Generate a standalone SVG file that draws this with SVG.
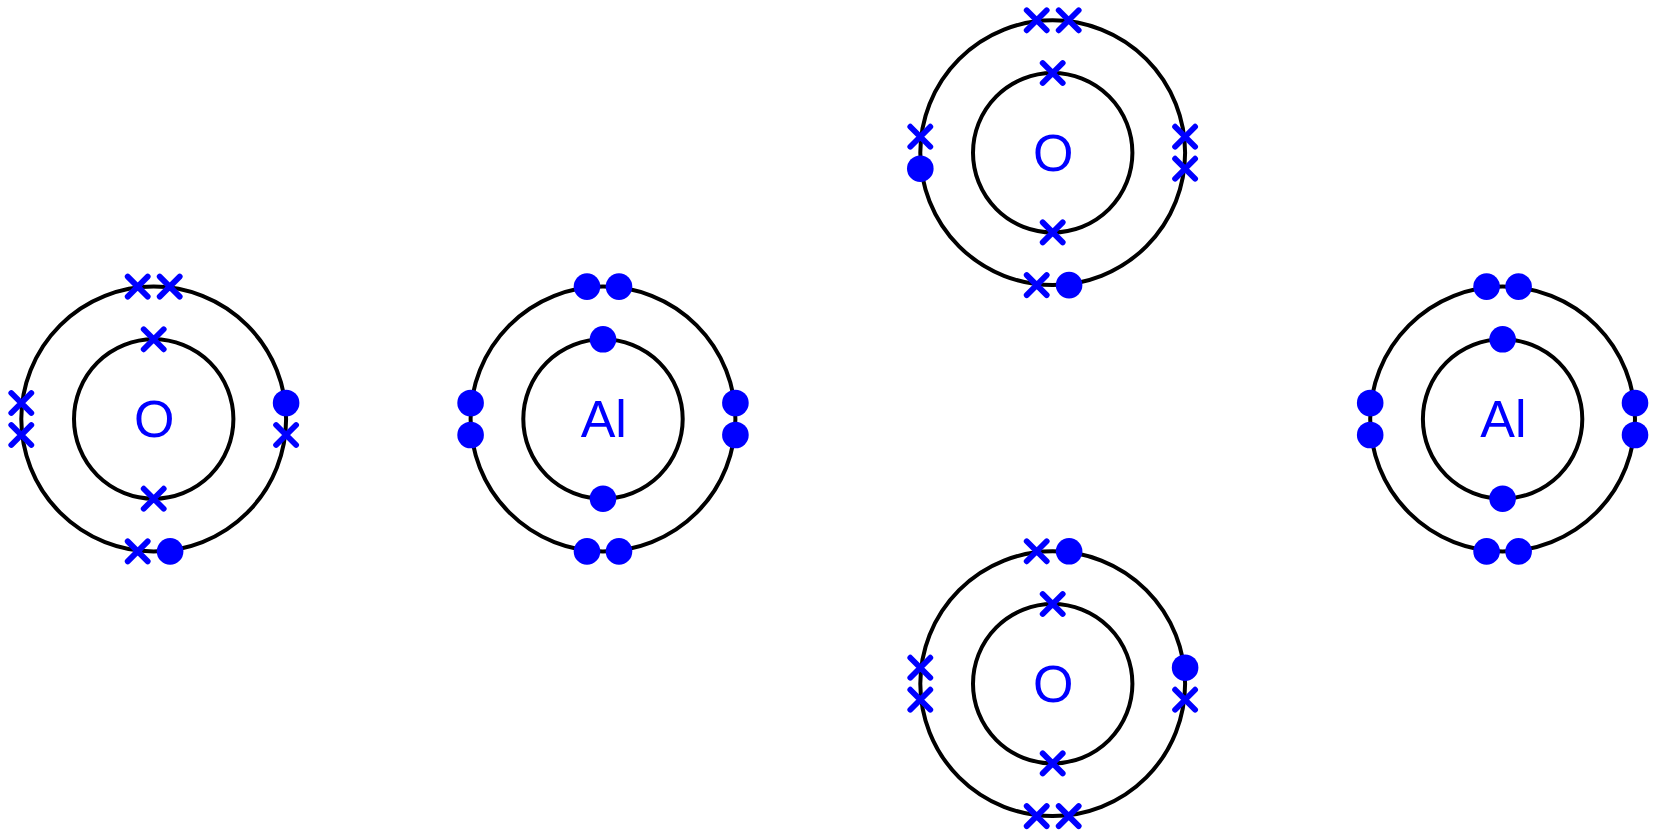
<svg xmlns="http://www.w3.org/2000/svg" width="1653" height="833" viewBox="0 0 1653 833">
<style>
.shell{fill:none;stroke:#000;stroke-width:4}
.dot{fill:#0000ff}
.lbl{font-family:"Liberation Sans",Arial,sans-serif;font-size:52px;fill:#0000ff;text-anchor:middle}
.x{stroke:#0000ff;stroke-width:5.8;stroke-linecap:round;fill:none}
</style>
<defs>
<g id="cross"><path class="x" d="M-10-10L10 10M-10 10L10-10"/></g>
<g id="e"><circle class="dot" r="13.3"/></g>
<g id="shells"><circle class="shell" r="79.7"/><circle class="shell" r="132.4"/></g>
</defs>
<rect width="1653" height="833" fill="#fff"/>
<g id="atom-o-left" transform="translate(153.7 419)">
<use href="#shells"/><text class="lbl" x="0.4" y="18">O</text>
<use href="#cross" x="-16" y="-132.4"/><use href="#cross" x="16" y="-132.4"/>
<use href="#cross" x="0" y="-79.7"/><use href="#cross" x="0" y="79.7"/>
<use href="#cross" x="-132.4" y="-16"/><use href="#cross" x="-132.4" y="16"/>
<use href="#e" x="132.4" y="-16"/><use href="#cross" x="132.4" y="16"/>
<use href="#cross" x="-16" y="132.4"/><use href="#e" x="16.4" y="132.4"/>
</g>
<g id="atom-al-left" transform="translate(603 419)">
<use href="#shells"/><text class="lbl" x="0.8" y="18">Al</text>
<use href="#e" x="-16" y="-132.4"/><use href="#e" x="16" y="-132.4"/>
<use href="#e" x="0" y="-79.7"/><use href="#e" x="0" y="79.7"/>
<use href="#e" x="-132.4" y="-16"/><use href="#e" x="-132.4" y="16"/>
<use href="#e" x="132.4" y="-16"/><use href="#e" x="132.4" y="16"/>
<use href="#e" x="-16" y="132.4"/><use href="#e" x="16" y="132.4"/>
</g>
<g id="atom-o-top" transform="translate(1052.7 152.7)">
<use href="#shells"/><text class="lbl" x="0.4" y="18">O</text>
<use href="#cross" x="-16" y="-132.4"/><use href="#cross" x="16" y="-132.4"/>
<use href="#cross" x="0" y="-79.7"/><use href="#cross" x="0" y="79.7"/>
<use href="#cross" x="-132.4" y="-16"/><use href="#e" x="-132.4" y="16"/>
<use href="#cross" x="132.4" y="-16"/><use href="#cross" x="132.4" y="16"/>
<use href="#cross" x="-16" y="132.4"/><use href="#e" x="16.4" y="132.4"/>
</g>
<g id="atom-o-bottom" transform="translate(1052.7 683.7)">
<use href="#shells"/><text class="lbl" x="0.4" y="18">O</text>
<use href="#cross" x="-16" y="-132.4"/><use href="#e" x="16.4" y="-132.4"/>
<use href="#cross" x="0" y="-79.7"/><use href="#cross" x="0" y="79.7"/>
<use href="#cross" x="-132.4" y="-16"/><use href="#cross" x="-132.4" y="16"/>
<use href="#e" x="132.4" y="-16"/><use href="#cross" x="132.4" y="16"/>
<use href="#cross" x="-16" y="132.4"/><use href="#cross" x="16" y="132.4"/>
</g>
<g id="atom-al-right" transform="translate(1502.6 419)">
<use href="#shells"/><text class="lbl" x="0.8" y="18">Al</text>
<use href="#e" x="-16" y="-132.4"/><use href="#e" x="16" y="-132.4"/>
<use href="#e" x="0" y="-79.7"/><use href="#e" x="0" y="79.7"/>
<use href="#e" x="-132.4" y="-16"/><use href="#e" x="-132.4" y="16"/>
<use href="#e" x="132.4" y="-16"/><use href="#e" x="132.4" y="16"/>
<use href="#e" x="-16" y="132.4"/><use href="#e" x="16" y="132.4"/>
</g>
<g id="connectors"/>
</svg>
